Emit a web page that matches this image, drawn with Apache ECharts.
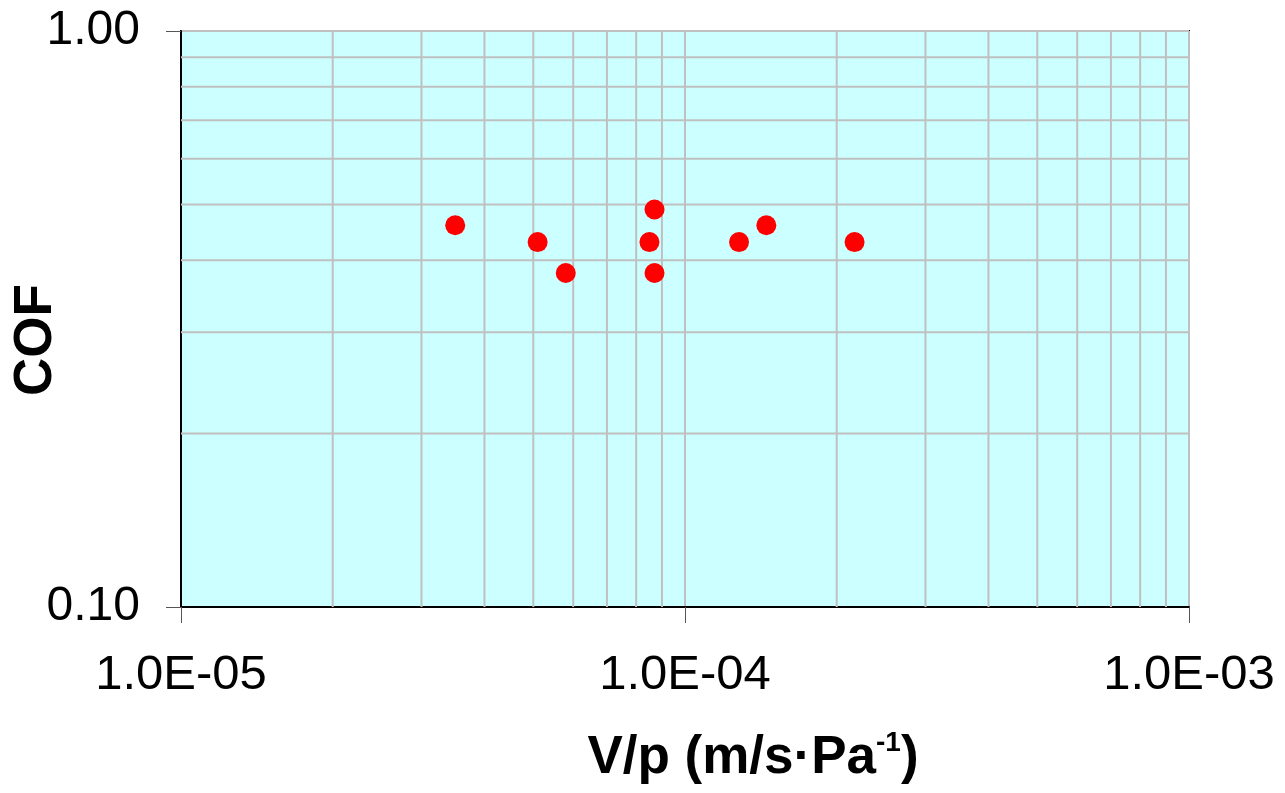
<!DOCTYPE html>
<html>
<head>
<meta charset="utf-8">
<title>COF vs V/p</title>
<script src="https://cdn.jsdelivr.net/npm/echarts@6/dist/echarts.min.js"></script>
<style>
  html, body { margin: 0; padding: 0; background: #fff; }
  #chart { width: 1285px; height: 793px; }
</style>
</head>
<body>
<div id="chart"></div>
<script>
// Measured points: sliding speed over pressure (m/s·Pa^-1) and coefficient of friction
const vOverP = [3.5e-5, 5.1e-5, 5.8e-5, 8.7e-5, 8.5e-5, 8.7e-5, 1.28e-4, 1.45e-4, 2.17e-4];
const cof    = [0.46,   0.43,   0.38,   0.49,   0.43,   0.38,   0.43,    0.46,    0.43];

// Axis ranges (log scales)
const xRange = [1e-5, 1e-3];
const yRange = [0.1, 1.0];

// Intermediate log grid lines within each decade
const xGridLines = [2e-5, 3e-5, 4e-5, 5e-5, 6e-5, 7e-5, 8e-5, 9e-5,
                    2e-4, 3e-4, 4e-4, 5e-4, 6e-4, 7e-4, 8e-4, 9e-4];
const yGridLines = [0.2, 0.3, 0.4, 0.5, 0.6, 0.7, 0.8, 0.9];

const FONT = '"Liberation Sans", Arial, sans-serif';
const GRID_COLOR = '#c0c0c0';

function sciLabel(v) {
  const parts = v.toExponential(1).split('e');
  const exp = parseInt(parts[1], 10);
  const sign = exp < 0 ? '-' : '+';
  const mag = String(Math.abs(exp)).padStart(2, '0');
  return parts[0].toUpperCase() + 'E' + sign + mag;
}

// One straight grid line per datum, spanning the full plot, placed through the axis scales
function gridLineSeries(values, vertical) {
  return {
    type: 'custom',
    silent: true,
    z: 1,
    clip: true,
    data: values,
    renderItem: function (params, api) {
      const v = api.value(0);
      const p1 = vertical ? api.coord([v, yRange[0]]) : api.coord([xRange[0], v]);
      const p2 = vertical ? api.coord([v, yRange[1]]) : api.coord([xRange[1], v]);
      return {
        type: 'line',
        shape: { x1: p1[0], y1: p1[1], x2: p2[0], y2: p2[1] },
        style: { stroke: GRID_COLOR, lineWidth: 2 }
      };
    },
    encode: vertical ? { x: 0 } : { y: 0 }
  };
}

const chart = echarts.init(document.getElementById('chart'), null, { renderer: 'canvas' });

chart.setOption({
  animation: false,
  backgroundColor: '#ffffff',
  grid: {
    left: 181, top: 31, right: 96, bottom: 186,
    outerBoundsMode: 'none',
    containLabel: false,
    show: true,
    backgroundColor: '#ccffff',
    borderColor: '#000000',
    borderWidth: 2
  },
  xAxis: {
    type: 'log',
    logBase: 10,
    min: xRange[0],
    max: xRange[1],
    name: '{t|V/p (m/s·Pa}{s|-1}{t|)}',
    nameLocation: 'middle',
    nameGap: 118,
    nameTextStyle: {
      padding: [0, 0, 0, 136],
      rich: {
        t: { fontFamily: FONT, fontWeight: 'bold', fontSize: 53, color: '#000', lineHeight: 60, verticalAlign: 'bottom' },
        s: { fontFamily: FONT, fontWeight: 'bold', fontSize: 28, color: '#000', lineHeight: 60, verticalAlign: 'top', padding: [4, 0, 0, 0] }
      }
    },
    axisLine: { show: true, lineStyle: { color: '#000', width: 2 } },
    axisTick: { show: true, length: 16, lineStyle: { color: '#555', width: 1 } },
    axisLabel: {
      show: true,
      margin: 44,
      fontFamily: FONT,
      fontSize: 49,
      color: '#000',
      showMinLabel: true,
      showMaxLabel: true,
      formatter: sciLabel
    },
    splitLine: { show: true, lineStyle: { color: GRID_COLOR, width: 2 } },
    minorTick: { show: false },
    minorSplitLine: { show: false }
  },
  yAxis: {
    type: 'log',
    logBase: 10,
    min: yRange[0],
    max: yRange[1],
    name: 'COF',
    nameLocation: 'middle',
    nameGap: 118,
    nameMoveOverlap: false,
    nameRotate: 90,
    nameTextStyle: {
      fontFamily: FONT,
      fontWeight: 'bold',
      fontSize: 53,
      color: '#000',
      padding: [0, 42, 0, 0]
    },
    axisLine: { show: true, lineStyle: { color: '#000', width: 2 } },
    axisTick: { show: true, length: 15, lineStyle: { color: '#555', width: 1 } },
    axisLabel: {
      show: true,
      margin: 41,
      fontFamily: FONT,
      fontSize: 48,
      color: '#000',
      showMinLabel: true,
      showMaxLabel: true,
      formatter: v => v.toFixed(2)
    },
    splitLine: { show: true, lineStyle: { color: GRID_COLOR, width: 2 } },
    minorTick: { show: false },
    minorSplitLine: { show: false }
  },
  series: [
    gridLineSeries(xGridLines, true),
    gridLineSeries(yGridLines, false),
    {
      name: 'COF',
      type: 'scatter',
      z: 5,
      symbol: 'circle',
      symbolSize: 20,
      itemStyle: { color: '#ff0000', opacity: 1 },
      data: vOverP.map((x, i) => [x, cof[i]])
    }
  ]
});
</script>
</body>
</html>
